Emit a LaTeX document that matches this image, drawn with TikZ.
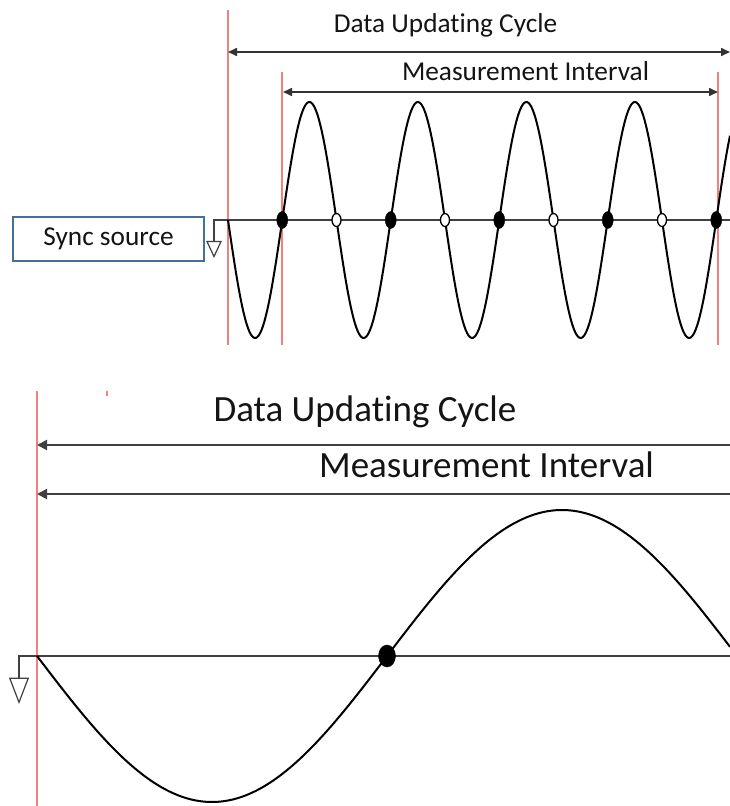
\documentclass[tikz,border=0pt]{standalone}
\usepackage{fontspec}
\setmainfont{Carlito}[Ligatures={NoCommon}]
\usetikzlibrary{arrows.meta,shapes.geometric}
\definecolor{redline}{RGB}{242,128,128}
\definecolor{boxblue}{RGB}{65,113,156}
\definecolor{txt}{RGB}{20,20,20}
\tikzset{
  redln/.style={draw=redline,line width=2pt},
  dim/.style={draw=black!80,line width=1.6pt,{Triangle[length=9pt,width=8pt]}-{Triangle[length=9pt,width=8pt]}},
  dimL/.style={draw=black!75,line width=2pt,{Triangle[length=10pt,width=10pt]}-},
  axis/.style={draw=black!75,line width=1.5pt},
  wave/.style={draw=black,line width=2pt},
  fdot/.style={ellipse,fill=black,draw=black,inner sep=0pt,minimum width=11pt,minimum height=17pt},
  odot/.style={ellipse,fill=white,draw=black,line width=1.3pt,inner sep=0pt,minimum width=9pt,minimum height=13pt},
  bdot/.style={ellipse,fill=black,draw=black,inner sep=0pt,minimum width=17pt,minimum height=22pt},
  lblS/.style={anchor=base,text=txt,font=\fontsize{27.3}{30}\selectfont,inner sep=0pt},
  lblB/.style={anchor=base,text=txt,font=\fontsize{37}{40}\selectfont,inner sep=0pt},
  gnd/.style={isosceles triangle,shape border rotate=-90,isosceles triangle apex angle=50,draw=black!75,line width=1.2pt,fill=white,inner sep=0pt,minimum height=15pt,anchor=apex}
}
\begin{document}
\begin{tikzpicture}[x=1pt,y=-1pt]
\useasboundingbox (0,0) rectangle (730,806);
% ---------- top panel ----------
\draw[redln] (228,10) -- (228,345);
\draw[redln] (282,72) -- (282,345);
\draw[redln] (718,72) -- (718,345);
\node[lblS] (t1) at (445.5,32) {Data Updating Cycle};
\node[lblS] (t2) at (525.5,80) {Measurement Interval};
\coordinate (a1l) at (228,52); \coordinate (a1r) at (730,52);
\coordinate (a2l) at (283,92); \coordinate (a2r) at (718,92);
\draw[dim] (a1l) -- (a1r);
\draw[dim] (a2l) -- (a2r);
% axis and ground
\coordinate (g1) at (214,220); \coordinate (ax1) at (730,220); \coordinate (g1b) at (214,243);
\draw[axis] (ax1) -- (g1) -- (g1b);
\node[gnd] (gt1) at (214,258) {};
% sync source box
\node[draw=boxblue,line width=1.8pt,minimum width=191pt,minimum height=44pt,inner sep=0pt,
      text=txt,font=\fontsize{27.3}{30}\selectfont] (sync) at (108.5,239) {Sync source};
% wave
\draw[wave,samples=400,domain=228:730,smooth] plot (\x,{220+118*sin(((\x-228)/108.5)*360)});
% dots
\foreach \k in {0,...,4}{
  \node[fdot] (f\k) at ({282.25+108.5*\k},220) {};
}
\foreach \k in {1,...,4}{
  \node[odot] (o\k) at ({228+108.5*\k},220) {};
}
% ---------- bottom panel ----------
\draw[redln] (37,391) -- (37,806);
\fill[redline] (106,391) rectangle (108,396);
\node[lblB] (b1) at (365,421) {Data Updating Cycle};
\node[lblB] (b2) at (486.5,477) {Measurement Interval};
\coordinate (c1l) at (37,445); \coordinate (c1r) at (730,445);
\coordinate (c2l) at (37,494); \coordinate (c2r) at (730,494);
\draw[dimL] (c1l) -- (c1r);
\draw[dimL] (c2l) -- (c2r);
\coordinate (g2) at (19,656); \coordinate (ax2) at (730,656); \coordinate (g2b) at (19,680);
\draw[axis] (ax2) -- (g2) -- (g2b);
\node[gnd,minimum height=24pt,isosceles triangle apex angle=42] (gt2) at (19,704) {};
\draw[wave,samples=300,domain=37:730,smooth] plot (\x,{656+146*sin(((\x-37)/700)*360)});
\node[bdot] (bd) at (387,656) {};
\end{tikzpicture}
\end{document}
